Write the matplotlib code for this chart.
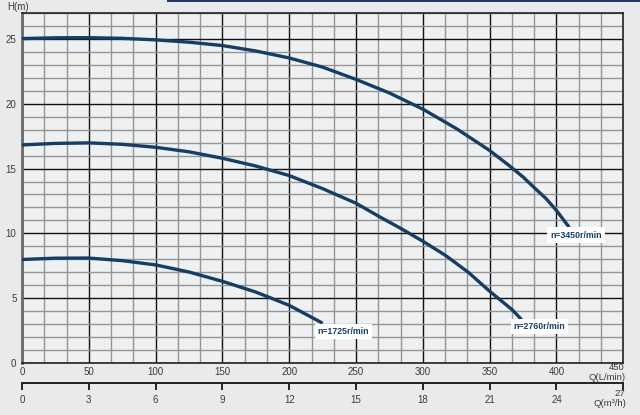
import numpy as np
import matplotlib
matplotlib.use('Agg')
import matplotlib.pyplot as plt
from matplotlib.patches import Rectangle

plt.rcParams['font.family'] = ['Liberation Sans', 'DejaVu Sans']

# curve data (Q in L/min, H in m)
q_3450 = [0, 25, 50, 75, 100, 125, 150, 175, 200, 225, 250, 275, 300, 325, 350, 365, 375, 383, 392, 400, 409.5]
h_3450 = [25.06, 25.12, 25.13, 25.08, 24.96, 24.78, 24.52, 24.1, 23.56, 22.85, 21.9, 20.85, 19.6, 18.1, 16.4, 15.2, 14.35, 13.56, 12.7, 11.76, 10.46]

q_2760 = [0, 25, 50, 75, 100, 125, 150, 175, 200, 225, 250, 268, 283, 300, 317, 334, 350, 367, 374]
h_2760 = [16.83, 16.95, 16.99, 16.88, 16.65, 16.3, 15.8, 15.2, 14.46, 13.45, 12.32, 11.25, 10.4, 9.38, 8.28, 6.98, 5.51, 4.07, 3.3]

q_1725 = [0, 25, 50, 75, 100, 125, 150, 175, 186, 200, 225]
h_1725 = [7.97, 8.07, 8.08, 7.88, 7.55, 7.0, 6.28, 5.45, 5.0, 4.42, 3.04]

curve_labels = ['n=3450r/min', 'n=2760r/min', 'n=1725r/min']
label_pos = [(414.6, 9.86), (387.3, 2.77), (240.6, 2.4)]

q_ticks = [0, 50, 100, 150, 200, 250, 300, 350, 400]
m3h_ticks = [0, 3, 6, 9, 12, 15, 18, 21, 24]
h_ticks = [0, 5, 10, 15, 20, 25]

navy = '#163d63'
txt = '#3a3a3a'

fig = plt.figure(figsize=(6.4, 4.15), dpi=100)
fig.patch.set_facecolor('#e8eaeb')

W, H = 640.0, 415.0
left, right = 22 / W, 623.3 / W
bottom, top = 1 - 362.5 / H, 1 - 13.5 / H
ax = fig.add_axes([left, bottom, right - left, top - bottom])
ax.set_facecolor('#eff0f1')

ax.set_xlim(0, 450)
ax.set_ylim(0, 27)
ax.set_xticks(q_ticks)
ax.set_xticks(np.arange(0, 451, 50 / 3), minor=True)
ax.set_yticks(h_ticks)
ax.set_yticks(range(28), minor=True)
ax.grid(which='minor', color='#959595', lw=1.0)
ax.grid(which='major', color='#111111', lw=1.0)
ax.set_axisbelow(True)
ax.tick_params(which='both', length=0, labelsize=7, colors=txt, pad=4)
ax.tick_params(axis='x', pad=3)
for s in ['top', 'right', 'bottom']:
    ax.spines[s].set_color('#222222')
    ax.spines[s].set_linewidth(1.2)
ax.spines['left'].set_color('#6a6a6a')
ax.spines['left'].set_linewidth(2)

for q, h in [(q_3450, h_3450), (q_2760, h_2760), (q_1725, h_1725)]:
    ax.plot(q, h, color=navy, lw=2.4, solid_capstyle='butt', zorder=3)

for lab, (x, y) in zip(curve_labels, label_pos):
    ax.text(x, y, lab, ha='center', va='center', fontsize=6.3, fontweight='bold',
            color=navy, zorder=4,
            bbox=dict(boxstyle='square,pad=0.35', fc='white', ec='none'))

# second scale in m3/h
ax2 = fig.add_axes([left, 1 - 382.5 / H, right - left, 0.0001])
ax2.set_xlim(0, 27)
ax2.set_xticks(m3h_ticks + [27])
ax2.set_xticklabels([str(t) for t in m3h_ticks] + [''])
ax2.set_yticks([])
ax2.patch.set_alpha(0)
for s in ['top', 'left', 'right']:
    ax2.spines[s].set_visible(False)
ax2.spines['bottom'].set_color('#222222')
ax2.spines['bottom'].set_linewidth(1.4)
ax2.tick_params(axis='x', direction='out', length=5, width=1.4, color='#222222',
                labelsize=7, labelcolor=txt, pad=4)

fs = 6.8
fig.text(625 / W, 1 - 368 / H, '450', ha='right', va='center', fontsize=fs, color=txt)
fig.text(626 / W, 1 - 377.5 / H, 'Q(L/min)', ha='right', va='center', fontsize=fs, color=txt)
fig.text(625 / W, 1 - 393 / H, '27', ha='right', va='center', fontsize=fs, color=txt)
fig.text(626 / W, 1 - 403.5 / H, 'Q(m³/h)', ha='right', va='center', fontsize=fs, color=txt)
fig.text(7 / W, 1 - 7 / H, 'H(m)', ha='left', va='center', fontsize=7, color=txt)

fig.add_artist(Rectangle((167 / W, 1 - 2.5 / H), 1, 2.5 / H, transform=fig.transFigure,
                         color='#1d3c5e', lw=0))

fig.savefig('out.png', dpi=100, facecolor=fig.get_facecolor())
